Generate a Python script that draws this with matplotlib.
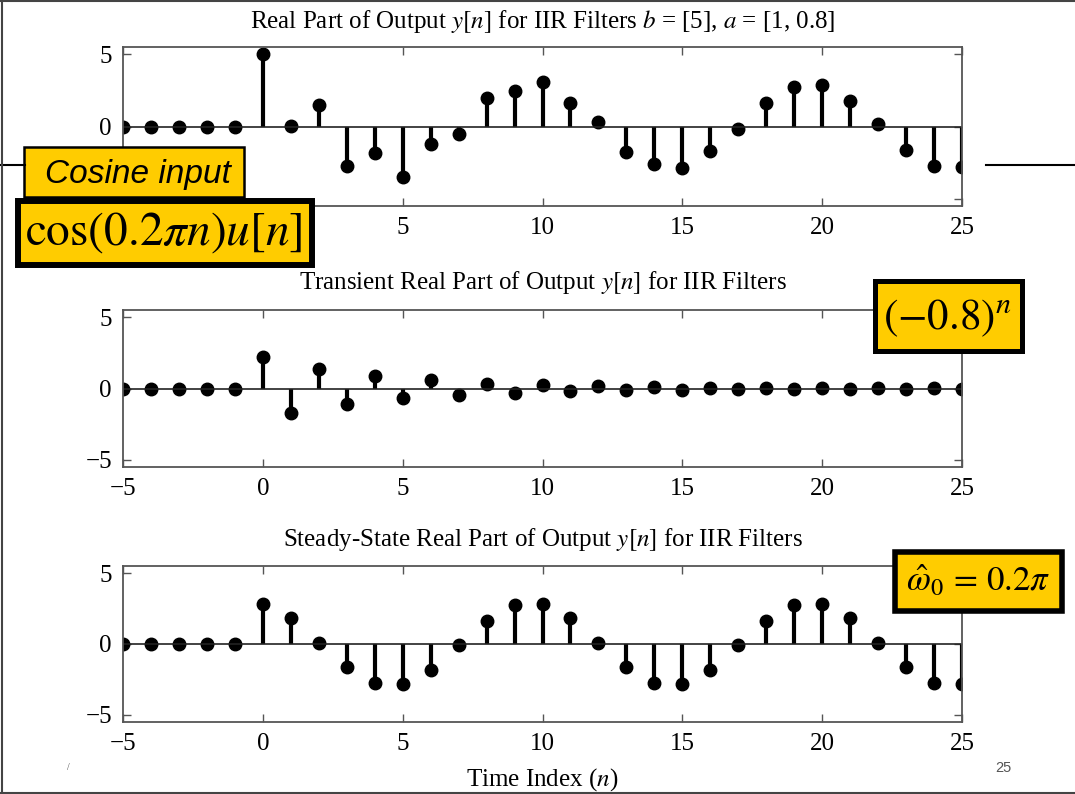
import numpy as np
import matplotlib
matplotlib.use("Agg")
import matplotlib.pyplot as plt
from matplotlib.patches import Rectangle
from matplotlib.lines import Line2D

plt.rcParams['font.family'] = ['Liberation Serif', 'DejaVu Serif']
plt.rcParams['mathtext.fontset'] = 'stix'

# time index
n = list(range(-5, 26))

# full output y[n]
y_total = [0, 0, 0, 0, 0,
           5.0, 0.05, 1.5, -2.75, -1.85, -3.5, -1.2, -0.55, 2.0, 2.45, 3.05,
           1.6, 0.3, -1.75, -2.6, -2.85, -1.7, -0.15, 1.65, 2.7, 2.85,
           1.75, 0.15, -1.6, -2.7, -2.8]

# transient part
y_trans = [0, 0, 0, 0, 0,
           2.2, -1.75, 1.4, -1.1, 0.9, -0.7, 0.6, -0.45, 0.35, -0.3, 0.25,
           -0.2, 0.15, -0.1, 0.1, -0.08, 0.06, -0.05, 0.04, -0.03, 0.02,
           -0.02, 0.015, -0.01, 0.01, -0.01]

# steady-state part
y_ss = [0, 0, 0, 0, 0,
        2.8, 1.8, 0.1, -1.65, -2.75, -2.8, -1.8, -0.1, 1.6, 2.75, 2.8,
        1.8, 0.1, -1.65, -2.75, -2.8, -1.8, -0.1, 1.6, 2.75, 2.8,
        1.8, 0.1, -1.65, -2.75, -2.8]

titles = [r'Real Part of Output $y[n]$ for IIR Filters $b$ = [5], $a$ = [1, 0.8]',
          r'Transient Real Part of Output $y[n]$ for IIR Filters',
          r'Steady-State Real Part of Output $y[n]$ for IIR Filters']
xticks = [-5, 0, 5, 10, 15, 20, 25]
yticks = [-5, 0, 5]
# top panel: labels that sit under the yellow boxes
xticklabels_top = ['', '', '5', '10', '15', '20', '25']
yticklabels_top = ['', '0', '5']

W, H = 1075, 794
fig = plt.figure(figsize=(W / 100, H / 100), dpi=100)


def fx(px):
    return px / W


def fy(py):
    return 1 - py / H


# axes boxes in pixels: (top, bottom)
panels = [(47, 206), (310, 467), (566, 722)]
title_base = [28, 289, 546]
left, right = 123, 962

for i, (yd, (t, b)) in enumerate(zip([y_total, y_trans, y_ss], panels)):
    ax = fig.add_axes([fx(left), fy(b), fx(right - left), (b - t) / H])
    ml, sl, bl = ax.stem(n, yd, linefmt='k-', markerfmt='ko', basefmt='k-')
    plt.setp(sl, linewidth=3.0)
    plt.setp(ml, markersize=9)
    plt.setp(bl, linewidth=1.2, color='#222222')
    ax.set_xlim(-5, 25)
    ax.set_ylim(-5.5, 5.5)
    ax.set_xticks(xticks)
    ax.set_yticks(yticks)
    if i == 0:
        ax.set_xticklabels(xticklabels_top)
        ax.set_yticklabels(yticklabels_top)
    ax.tick_params(direction='in', top=True, right=True, length=6,
                   width=1.0, color='#555555', labelsize=18, pad=8)
    for s in ax.spines.values():
        s.set_color('#555555')
        s.set_linewidth(1.3)
    fig.text(fx((left + right) / 2), fy(title_base[i]), titles[i],
             ha='center', va='baseline', fontsize=18)

fig.text(fx(542), fy(786), r'Time Index ($n$)', ha='center', va='baseline', fontsize=18)

# slide decorations
fig.add_artist(Line2D([0, fx(25)], [fy(165), fy(165)], color='black', lw=1.5))
fig.add_artist(Line2D([fx(986), 1], [fy(165), fy(165)], color='black', lw=1.5))
fig.add_artist(Line2D([fx(2), fx(2)], [0, 1], color='#444444', lw=1.5))
fig.add_artist(Line2D([0, 1], [fy(1), fy(1)], color='#444444', lw=1.5))
fig.add_artist(Line2D([0, 1], [fy(793), fy(793)], color='#444444', lw=1.5))
fig.text(fx(1003), fy(768), '25', ha='center', va='center', fontsize=10.5,
         color='#555555', family='Liberation Sans')
fig.text(fx(68), fy(768), '/', ha='center', va='center', fontsize=7, color='#555555')

yellow = '#FFCC00'


def box(x0, y0, x1, y1, lw):
    fig.add_artist(Rectangle((fx(x0), fy(y1)), fx(x1 - x0), (y1 - y0) / H,
                             facecolor=yellow, edgecolor='black', linewidth=lw,
                             transform=fig.transFigure))


box(24, 147, 244, 197, 1.8)
fig.text(fx(138), fy(174), 'Cosine input', ha='center', va='center', fontsize=24,
         style='italic', family='Liberation Sans')

box(18, 201, 312, 265, 4.3)
fig.text(fx(164), fy(233), r'$\mathrm{cos}(0.2\pi n)u[n]$', ha='center', va='center',
         fontsize=34)

box(874.5, 281.5, 1021.5, 351.5, 3.6)
fig.text(fx(947), fy(318), r'$(-0.8)^n$', ha='center', va='center', fontsize=31)

box(895, 552, 1062, 611, 4.0)
fig.text(fx(978), fy(582), r'$\hat{\omega}_0 \,=\, 0.2\pi$', ha='center', va='center',
         fontsize=25)

fig.savefig('out.png', dpi=100)
